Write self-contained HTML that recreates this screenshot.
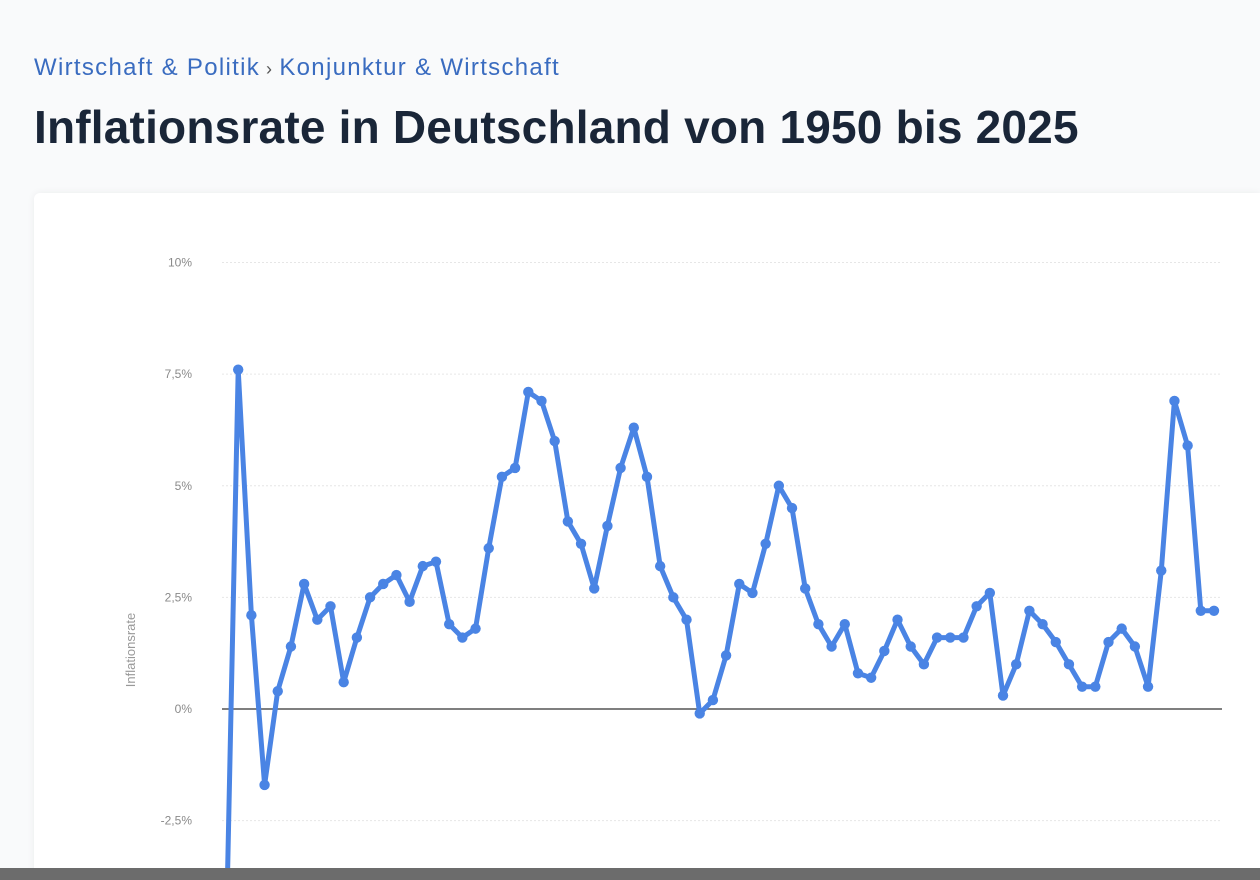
<!DOCTYPE html>
<html><head><meta charset="utf-8">
<style>
html,body{margin:0;padding:0;width:1260px;height:880px;overflow:hidden;background:#f9fafb;font-family:"Liberation Sans",sans-serif;position:relative}
#crumb{position:absolute;left:34px;top:54px;font-size:24px;letter-spacing:1.3px;color:#3a6cc0;white-space:nowrap}
#crumb span{margin:0 6px;font-size:18px;color:#555}
#title{position:absolute;left:34px;top:100px;font-size:46px;font-weight:bold;color:#1a2638;white-space:nowrap;margin:0;letter-spacing:0.2px}
#card{position:absolute;left:34px;top:193px;width:1226px;height:687px;background:#fff;border-radius:6px 0 0 0;box-shadow:0 0 8px rgba(0,0,0,0.06)}
#bar{position:absolute;left:0;top:868px;width:1260px;height:12px;background:#6c6c6c}
svg{position:absolute;left:0;top:0}
</style></head><body>
<div id="crumb"><a>Wirtschaft &amp; Politik</a><span>›</span><a>Konjunktur &amp; Wirtschaft</a></div>
<h1 id="title">Inflationsrate in Deutschland von 1950 bis 2025</h1>
<div id="card"></div>
<svg id="chart" width="1260" height="880"></svg>
<div id="bar"></div>
<script>
const years=[];for(let y=1950;y<=2025;y++)years.push(y);
const values=[-6.4,7.6,2.1,-1.7,0.4,1.4,2.8,2.0,2.3,0.6,1.6,2.5,2.8,3.0,2.4,3.2,3.3,1.9,1.6,1.8,3.6,5.2,5.4,7.1,6.9,6.0,4.2,3.7,2.7,4.1,5.4,6.3,5.2,3.2,2.5,2.0,-0.1,0.2,1.2,2.8,2.6,3.7,5.0,4.5,2.7,1.9,1.4,1.9,0.8,0.7,1.3,2.0,1.4,1.0,1.6,1.6,1.6,2.3,2.6,0.3,1.0,2.2,1.9,1.5,1.0,0.5,0.5,1.5,1.8,1.4,0.5,3.1,6.9,5.9,2.2,2.2];
const ticks=[10,7.5,5,2.5,0,-2.5];
const tickLabels=["10%","7,5%","5%","2,5%","0%","-2,5%"];
const NS="http://www.w3.org/2000/svg";
const svg=document.getElementById('chart');
const X=i=>225+i*(1214-225)/(years.length-1);
const Y=v=>709-v*44.65;
function mk(t,a){const e=document.createElementNS(NS,t);for(const k in a)e.setAttribute(k,a[k]);svg.appendChild(e);return e;}
ticks.forEach((t,i)=>{
  if(t!==0){const g=mk('line',{x1:222,x2:1222,y1:Y(t),y2:Y(t),stroke:'#e6e6e6','stroke-width':1,'stroke-dasharray':'2,2'});
  
  }
  const l=mk('text',{x:192,y:Y(t)+4,'text-anchor':'end','font-size':12,fill:'#8a8a8a','font-family':'Liberation Sans, sans-serif'});
  l.textContent=tickLabels[i];
  
  
});
const z=mk('line',{x1:222,x2:1222,y1:Y(0),y2:Y(0),stroke:'#555','stroke-width':1.6});


const at=mk('text',{x:135,y:650,'text-anchor':'middle','font-size':13,fill:'#999',transform:'rotate(-90 135 650)','font-family':'Liberation Sans, sans-serif'});
at.textContent='Inflationsrate';


const pts=values.map((v,i)=>X(i).toFixed(1)+','+Y(v).toFixed(1)).join(' ');
const pl=mk('polyline',{points:pts,fill:'none',stroke:'#4a84e4','stroke-width':5,'stroke-linejoin':'round','stroke-linecap':'round'});


values.forEach((v,i)=>{
  const c=mk('circle',{cx:X(i),cy:Y(v),r:5.2,fill:'#4a84e4'});
  
  
});
</script>
</body></html>
